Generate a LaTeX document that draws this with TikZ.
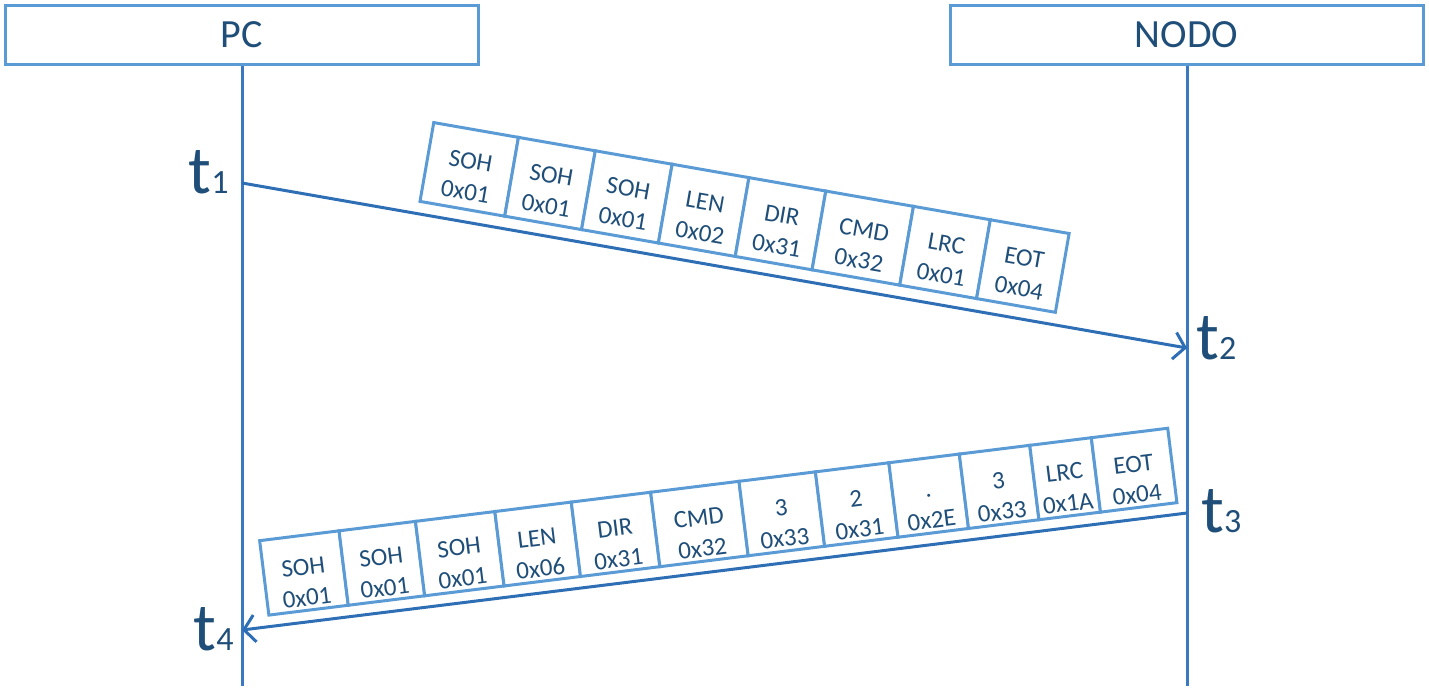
\documentclass[tikz,border=0pt]{standalone}
\usepackage{fontspec}
\setmainfont{Carlito}
\usetikzlibrary{arrows.meta}

\definecolor{boxblue}{HTML}{5B9BD5}
\definecolor{lineblue}{HTML}{3A78C2}
\definecolor{msgblue}{HTML}{2E6EB5}
\definecolor{textblue}{HTML}{1F4E79}

\newcommand{\tlab}[1]{{\fontsize{34}{34}\selectfont t}{\fontsize{17}{17}\selectfont #1}}
% pushes the two lines of a cell a little down
\newcommand{\cellup}[1]{\rule{0pt}{#1}}

\tikzset{
  lifebox/.style={draw=boxblue, line width=1.5pt, minimum width=236.5pt,
    minimum height=29.5pt, inner sep=0pt, text=textblue,
    font=\fontsize{20}{24}\selectfont},
  lifeline/.style={draw=lineblue, line width=1.5pt},
  msg/.style={draw=msgblue, line width=1.5pt,
    -{Straight Barb[length=5.5pt,width=13.5pt]}},
  cell/.style={draw=boxblue, fill=white, line width=1.5pt, inner sep=0pt,
    align=center, text=textblue, anchor=south west,
    font=\fontsize{12.5}{15.5}\selectfont},
  tlabel/.style={inner sep=0pt, text=textblue}
}

\begin{document}
\begin{tikzpicture}[x=0.5pt, y=-0.5pt, >=stealth]
            \useasboundingbox (0,0) rectangle (1429,691);

            % The lifelines
            \node[lifebox] (pc) at (241.5,34.5) {PC};
            \node[lifebox] (nodo) at (1186.5,34.5) {NODO};
            \coordinate (pcend) at (242,686);
            \coordinate (nodoend) at (1187,686);
            \draw[lifeline] (pc.south -| pcend) -- (pcend);
            \draw[lifeline] (nodo.south -| nodoend) -- (nodoend);

            % messages
            \coordinate (m1a) at (242,183);
            \coordinate (m1b) at (1187,348);
            \coordinate (m2a) at (1187,513);
            \coordinate (m2b) at (242,630);
            \draw[msg] (m1a) -- (m1b);
            \draw[msg] (m2a) -- (m2b);

            %% time marks
            \node[tlabel, anchor=base east] (t1) at (229,193) {\tlab{1}};
            \node[tlabel, anchor=base west] (t2) at (1196,359) {\tlab{2}};
            \node[tlabel, anchor=base west] (t3) at (1201,532) {\tlab{3}};
            \node[tlabel, anchor=base east] (t4) at (234,650) {\tlab{4}};

            % request frame
            \begin{scope}[shift={(m1a)}, rotate=-9.905, transform shape]
                \foreach \w/\ta/\tb [count=\i, remember=\xe as \xs (initially 177),
                        evaluate=\w as \xe using \xs+\w] in
                        {86/SOH/0x01, 78/SOH/0x01, 78/SOH/0x01, 78/LEN/0x02,
                         78/DIR/0x31, 89/CMD/0x32, 78/LRC/0x01, 80/EOT/0x04}
                    \node[cell, minimum width=\w*0.5pt, minimum height=40pt]
                        (req\i) at (\xs,-11) {\cellup{15pt}\ta\\\tb};
            \end{scope}

            % answer frame
            \begin{scope}[shift={(m2b)}, rotate=7.058, transform shape]
                \foreach \w/\ta/\tb [count=\i, remember=\xe as \xs (initially 27),
                        evaluate=\w as \xe using \xs+\w] in
                        {80/SOH/0x01, 77/SOH/0x01, 80/SOH/0x01, 77/LEN/0x06,
                         80/DIR/0x31, 89/CMD/0x32, 77/3/0x33, 74/2/0x31,
                         71/./0x2E, 71/3/0x33, 62/LRC/0x1A, 77/EOT/0x04}
                    \node[cell, minimum width=\w*0.5pt, minimum height=37.5pt]
                        (ans\i) at (\xs,-10) {\cellup{17.5pt}\ta\\\tb};
            \end{scope}
        \end{tikzpicture}
\end{document}
